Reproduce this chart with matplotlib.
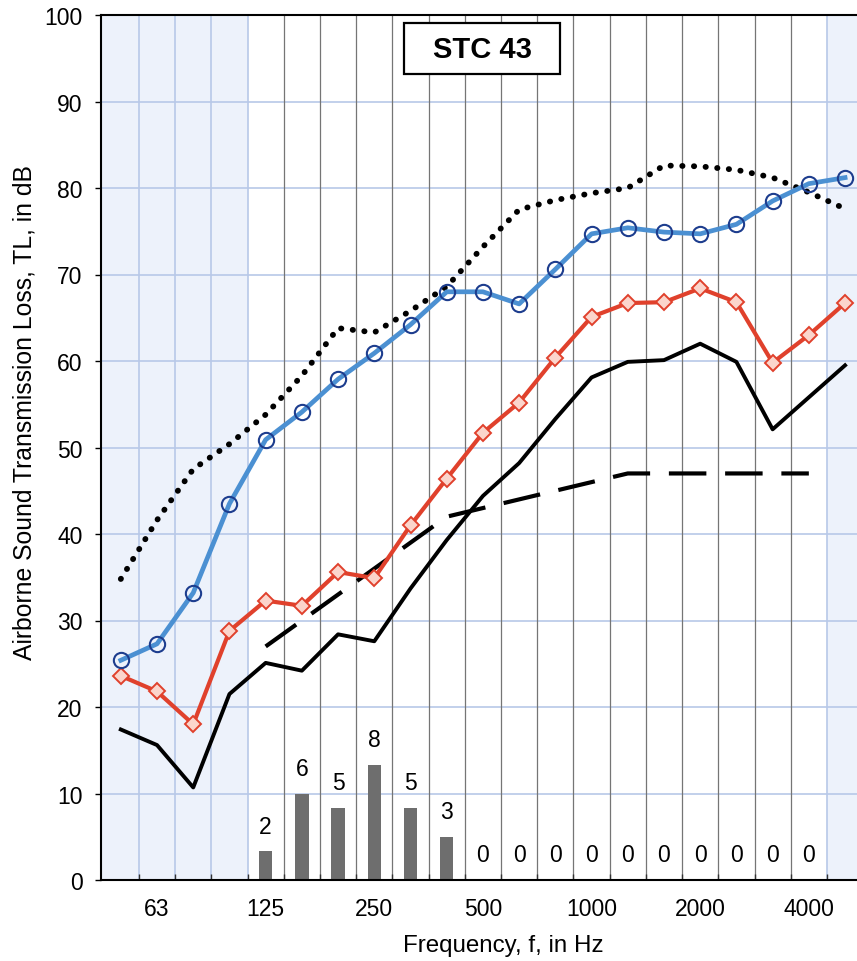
import numpy as np
import matplotlib
matplotlib.use("Agg")
import matplotlib.pyplot as plt
from matplotlib.patches import Rectangle

plt.rcParams['font.family'] = ['Liberation Sans', 'DejaVu Sans']

# One-third octave band centre frequencies (Hz)
bands = ["50", "63", "80", "100", "125", "160", "200", "250", "315", "400",
         "500", "630", "800", "1000", "1250", "1600", "2000", "2500", "3150",
         "4000", "5000"]
tick_labels = ["63", "125", "250", "500", "1000", "2000", "4000"]

# Transmission loss curves (dB)
tl_upper_dotted = [34.8, 41.6, 47.5, 50.4, 53.8, 58.3, 63.8, 63.3, 65.8, 68.6,
                   73.2, 77.5, 78.6, 79.4, 80.0, 82.6, 82.5, 82.1, 81.2, 79.5, 77.6]
tl_blue = [25.4, 27.3, 33.2, 43.5, 50.9, 54.1, 57.9, 60.9, 64.2, 68.0,
           68.0, 66.6, 70.6, 74.7, 75.4, 74.9, 74.7, 75.8, 78.5, 80.5, 81.2]
tl_red = [23.6, 21.8, 18.0, 28.8, 32.3, 31.7, 35.6, 34.9, 41.0, 46.4,
          51.7, 55.2, 60.4, 65.1, 66.7, 66.8, 68.4, 66.8, 59.8, 63.0, 66.7]
tl_black = [17.4, 15.6, 10.7, 21.5, 25.1, 24.2, 28.4, 27.6, 33.7, 39.3,
            44.4, 48.2, 53.3, 58.1, 59.9, 60.1, 62.0, 59.9, 52.1, 55.8, 59.5]

# STC 43 reference contour, 125 Hz to 4000 Hz
stc_bands = ["125", "160", "200", "250", "315", "400", "500", "630", "800",
             "1000", "1250", "1600", "2000", "2500", "3150", "4000"]
stc_contour = [27, 30, 33, 36, 39, 42, 43, 44, 45, 46, 47, 47, 47, 47, 47, 47]
deficiencies = [2, 6, 5, 8, 5, 3, 0, 0, 0, 0, 0, 0, 0, 0, 0, 0]
bar_scale = 5.0 / 3.0
stc_rating = "STC 43"

x = np.arange(len(bands))
xs = np.array([bands.index(b) for b in stc_bands])
xt = [bands.index(t) for t in tick_labels]

fig = plt.figure(figsize=(8.57, 9.62), dpi=100)
ax = fig.add_axes([101 / 857, 1 - 881 / 962, 1 - 101 / 857, (881 - 16) / 962])

ax.set_xlim(-0.547, 20.33)
ax.set_ylim(0, 100)

# shaded regions outside the rating range
shade = '#edf2fb'
ax.axvspan(-1, 3.5, color=shade, zorder=0, lw=0)
ax.axvspan(19.5, 21, color=shade, zorder=0, lw=0)

# grid
grid_blue = '#b8c8e8'
for yv in range(10, 100, 10):
    ax.axhline(yv, color=grid_blue, lw=1.2, zorder=1)
for xb in np.arange(0.5, 20.5, 1.0):
    if 4 < xb < 19:
        ax.axvline(xb, color='#757575', lw=0.9, zorder=1)
    else:
        ax.axvline(xb, color=grid_blue, lw=1.2, zorder=1)

# deficiency bars
heights = [d * bar_scale for d in deficiencies]
ax.bar(xs, heights, width=0.37, color='#6e6e6e', zorder=2)
for xi, h, d in zip(xs, heights, deficiencies):
    ax.annotate(str(d), (xi, h), xytext=(0, 18), textcoords='offset points',
                ha='center', va='center', fontsize=16.5, zorder=5)

# curves
ax.plot(x, tl_upper_dotted, color='black', lw=4.2, linestyle=(0, (0.05, 1.95)),
        dash_capstyle='round', solid_capstyle='round', zorder=3)
ax.plot(xs, stc_contour, color='black', lw=3.0, linestyle=(0, (9.0, 4.5)),
        zorder=3)
ax.plot(x, tl_black, color='black', lw=2.8, zorder=3)
ax.plot(x, tl_red, color='#e0412c', lw=3.0, marker='D', markersize=8,
        markeredgecolor='#e0412c', markerfacecolor='#fbd5cc',
        markeredgewidth=1.4, zorder=4)
ax.plot(x, tl_blue, color='#4b90d2', lw=3.4, marker='o', markersize=11,
        markeredgecolor='#1d3d8e', markerfacecolor='none',
        markeredgewidth=1.5, zorder=4)

# axes styling
for s in ['left', 'bottom', 'top']:
    ax.spines[s].set_linewidth(1.5)
    ax.spines[s].set_color('black')
ax.spines['right'].set_visible(False)

ax.set_yticks(range(0, 101, 10))
ax.tick_params(axis='y', direction='out', length=4.3, width=1.0,
               labelsize=16.5, pad=9)
ax.set_xticks(xt)
ax.set_xticklabels(tick_labels)
ax.set_xticks(np.arange(0.5, 20.0, 1.0), minor=True)
ax.tick_params(axis='x', which='major', length=0, labelsize=16.5, pad=12)
ax.tick_params(axis='x', which='minor', direction='in', length=4,
               width=1.0, color='#333333')

# rating box
bx0, by0, bx1, by1 = 404, 24, 560, 75
fig.patches.append(Rectangle((bx0 / 857, 1 - by1 / 962), (bx1 - bx0) / 857,
                             (by1 - by0) / 962, transform=fig.transFigure,
                             facecolor='white', edgecolor='black', lw=1.6,
                             zorder=10))
fig.text((bx0 + bx1) / 2 / 857, 1 - (by0 + by1) / 2 / 962, stc_rating,
         ha='center', va='center', fontsize=21, fontweight='bold', zorder=11)

fig.text(25 / 857, 1 - 412 / 962, "Airborne Sound Transmission Loss, TL, in dB",
         rotation=90, ha='center', va='center', fontsize=17.8)
fig.text(503 / 857, 1 - 946 / 962, "Frequency, f, in Hz",
         ha='center', va='center', fontsize=17.4)

fig.savefig("out.png", dpi=100)
